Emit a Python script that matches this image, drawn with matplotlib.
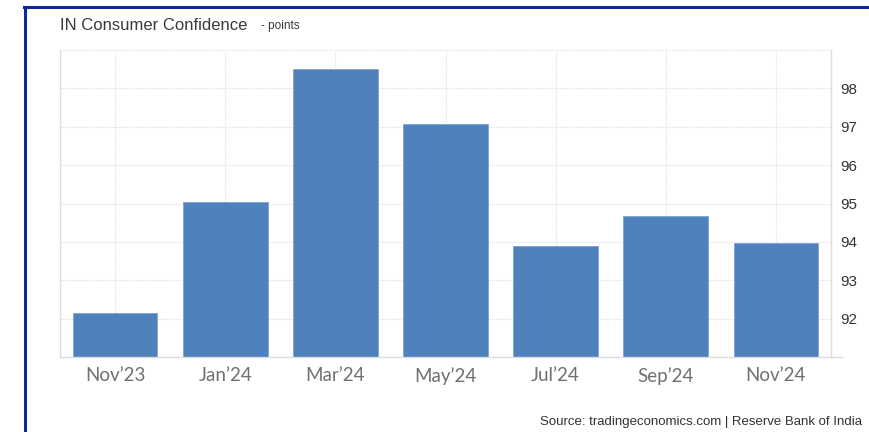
import matplotlib.pyplot as plt
from matplotlib.lines import Line2D

# data
months = ["Nov\u201923", "Jan\u201924", "Mar\u201924", "May\u201924", "Jul\u201924", "Sep\u201924", "Nov\u201924"]
values = [92.15, 95.05, 98.5, 97.07, 93.88, 94.68, 93.98]
y_ticks = [92, 93, 94, 95, 96, 97, 98]

fig = plt.figure(figsize=(8.69, 4.32), dpi=100)
ax = fig.add_axes([60 / 869, 75 / 432, 771 / 869, 307 / 432])

x = list(range(len(months)))
ax.bar(x, [v - 91 for v in values], bottom=91, width=0.77,
       color="#4f81bd", edgecolor="#7fa3d3", linewidth=0.6, zorder=3)

ax.set_xlim(-0.5, 6.5)
ax.set_ylim(91, 99)

# dotted grid
grid_kw = dict(color="#e0e0e0", linestyle=(0, (1, 1)), linewidth=0.8, zorder=0)
for t in y_ticks + [99]:
    ax.axhline(t, **grid_kw)
for xi in x:
    ax.axvline(xi, **grid_kw)

ax.yaxis.tick_right()
ax.set_yticks(y_ticks)
ax.set_yticklabels([str(t) for t in y_ticks], fontsize=11, color="#333333",
                   family="Liberation Sans")
ax.tick_params(axis="y", length=0, pad=7)

ax.set_xticks(x)
ax.set_xticklabels(months, fontsize=13.5, color="#707070", family="Lato")
ax.tick_params(axis="x", length=0, pad=7)

ax.spines["top"].set_visible(False)
for side in ["left", "right", "bottom"]:
    ax.spines[side].set_color("#dcdcdc")
    ax.spines[side].set_linewidth(1.0)
ax.spines["bottom"].set_bounds(-0.5, 6.6)
ax.spines["bottom"].set_zorder(4)

# title and source
fig.text(60 / 869, 1 - 25 / 432, "IN Consumer Confidence", fontsize=12,
         color="#3a3a3a", family="Liberation Sans", va="center")
fig.text(261 / 869, 1 - 26 / 432, "- points", fontsize=8.5,
         color="#3a3a3a", family="Liberation Sans", va="center")
fig.text(862 / 869, 1 - 422 / 432, "Source: tradingeconomics.com | Reserve Bank of India",
         fontsize=9.5, color="#333333", family="Liberation Sans", ha="right", va="center")

# dark blue frame lines (top and left)
fig.add_artist(Line2D([24 / 869, 1.0], [1 - 7 / 432, 1 - 7 / 432],
                      color="#0a2896", linewidth=2.2, transform=fig.transFigure))
fig.add_artist(Line2D([25 / 869, 25 / 869], [0.0, 1 - 7 / 432],
                      color="#0a2896", linewidth=2.2, transform=fig.transFigure))

fig.savefig("out.png", dpi=100)
